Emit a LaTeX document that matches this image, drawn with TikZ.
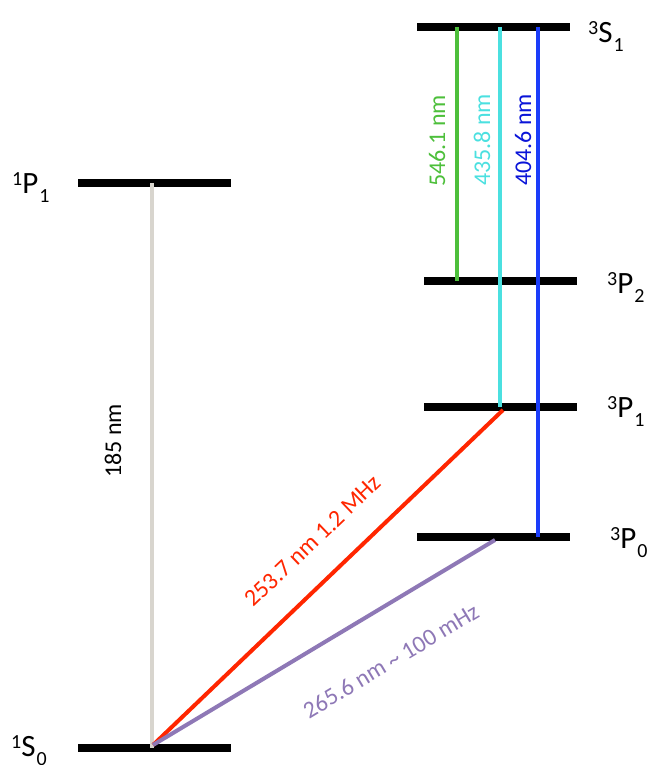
\documentclass[tikz,border=0pt]{standalone}
\usepackage{fontspec}
\setmainfont{Carlito}
\usepackage{tikz}

\definecolor{lgreen}{HTML}{4DBF3B}
\definecolor{lcyan}{HTML}{4BE0E0}
\definecolor{lblue}{HTML}{1B3DFA}
\definecolor{tblue}{HTML}{0A14D8}
\definecolor{lgray}{HTML}{D8D5CE}
\definecolor{lred}{HTML}{FF2600}
\definecolor{lpurple}{HTML}{8E78B6}

% term symbol: multiplicity, letter, J
\newcommand{\termsym}[3]{\raisebox{8pt}{\fontsize{20}{20}\selectfont #1}#2\kern1pt\raisebox{-9pt}{\fontsize{20}{20}\selectfont #3}}

\tikzset{
  lvl/.style={fill=black, inner sep=0, minimum width=153, minimum height=8},
  trans/.style={line width=4},
  term/.style={anchor=base west, inner sep=0, font=\fontsize{31}{32}\selectfont},
  wl/.style={inner sep=0, font=\fontsize{24}{26}\selectfont}
}

\begin{document}
\begin{tikzpicture}[x=1pt,y=-1pt]
\useasboundingbox (0,0) rectangle (655,765);

% levels
\node[lvl] (S1) at (493.5,27) {};
\node[lvl] (P2) at (500,281) {};
\node[lvl] (P1) at (500,407) {};
\node[lvl] (P0) at (493.5,537) {};
\node[lvl] (sP1) at (154,183) {};
\node[lvl] (sS0) at (154,748) {};

\node[term] (tS1) at (588,43) {\termsym{3}{S}{1}};
\node[term] (tP2) at (607,293) {\termsym{3}{P}{2}};
\node[term] (tP1) at (607,417) {\termsym{3}{P}{1}};
\node[term] (tP0) at (610,548) {\termsym{3}{P}{0}};
\node[term] (tsP1) at (12,193) {\termsym{1}{P}{1}};
\node[term] (tsS0) at (11,756) {\termsym{1}{S}{0}};

% columns of the vertical lines
\coordinate (gx) at (457,0);
\coordinate (cx) at (500,0);
\coordinate (bx) at (538,0);
\coordinate (ax) at (152,0);
\coordinate (base) at (153,745);
\coordinate (rend) at (503,410);
\coordinate (vend) at (495,540);

\draw[trans, lgreen] (S1 -| gx) -- (P2 -| gx);
\draw[trans, lcyan] (S1 -| cx) -- (P1 -| cx);
\draw[trans, lblue] (S1 -| bx) -- (P0 -| bx);
\node[wl, rotate=90, lgreen] (lg) at (437,141) {546.1 nm};
\node[wl, rotate=90, lcyan] (lc) at (482,140) {435.8 nm};
\node[wl, rotate=90, tblue] (lb) at (523,140) {404.6 nm};

\draw[trans, lgray] (sP1 -| ax) -- (sS0 -| ax);
\node[wl, rotate=90] (la) at (113,441) {185 nm};

\draw[trans, lred] (base) -- (rend)
  node[wl, pos=0.53, sloped, above=27] (lr) {253.7 nm 1.2 MHz};
\draw[trans, lpurple] (base) -- (vend)
  node[wl, pos=0.62, sloped, below=40] (lp) {265.6 nm \textasciitilde{} 100 mHz};
\end{tikzpicture}
\end{document}
